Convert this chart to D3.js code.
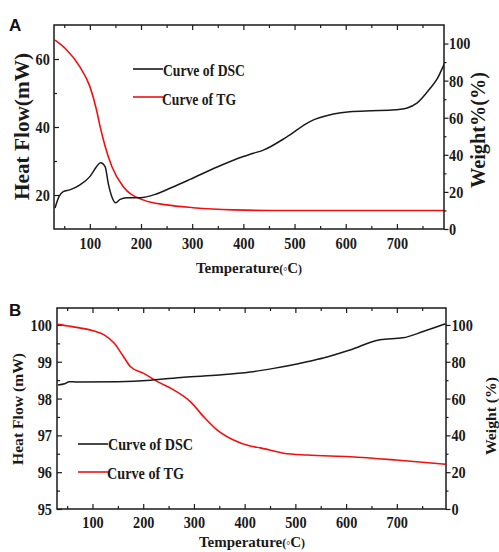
<!DOCTYPE html>
<html><head><meta charset="utf-8">
<script src="https://cdn.jsdelivr.net/npm/d3@7"></script>
<style>
body{margin:0;background:#fff}
svg{display:block}
text{font-family:"Liberation Serif","Times New Roman",serif;font-weight:bold;fill:#1a1a1a}
</style>
</head><body>
<svg id="c" width="499" height="552"></svg>
<script>
// ---------- data ----------
const tempTicks = [100, 200, 300, 400, 500, 600, 700];
const tempMinorTicks = [50, 150, 250, 350, 450, 550, 650, 750];
const aHeatTicks = [20, 40, 60];
const aHeatMinor = [30, 50];
const weightTicks = [0, 20, 40, 60, 80, 100];
const weightMinor = [10, 30, 50, 70, 90];
const bHeatTicks = [95, 96, 97, 98, 99, 100];
const bHeatMinor = [95.5, 96.5, 97.5, 98.5, 99.5];

// Panel A – DSC (heat flow, mW)
const aDscTemp = [32, 40, 48, 61, 80, 100, 113, 121, 130, 136, 143, 150.6, 159, 172, 198, 230, 260, 296, 350, 400, 420, 439, 485, 530, 576, 608, 650, 690, 720, 739, 765, 778, 793];
const aDscHeat = [16.2, 19.6, 21.0, 21.5, 22.9, 25.4, 28.3, 29.5, 28.3, 23.4, 19.5, 17.7, 18.7, 19.2, 19.2, 20.3, 22.2, 24.6, 28.3, 31.3, 32.3, 33.2, 37.1, 41.6, 43.8, 44.5, 44.8, 45.0, 45.6, 47.0, 51.4, 54.0, 58.7];
// Panel A – TG (weight %)
const aTgTemp = [32, 54, 80, 100, 113, 120, 130, 143, 165, 204, 250, 302, 380, 450, 600, 792];
const aTgWeight = [101.8, 96.8, 87.7, 76.9, 64.3, 55.3, 44.5, 33.7, 22.9, 15.7, 13.0, 11.5, 10.3, 10.0, 10.0, 10.0];

// Panel B – DSC (heat flow, mW)
const bDscTemp = [32, 45, 54, 70, 150, 215, 280, 350, 411, 457, 523, 555, 608, 667, 712, 752, 796];
const bDscHeat = [98.37, 98.40, 98.46, 98.45, 98.46, 98.50, 98.58, 98.64, 98.72, 98.82, 99.00, 99.10, 99.32, 99.60, 99.65, 99.82, 100.03];
// Panel B – TG (weight %)
const bTgTemp = [32, 57, 103, 123, 143, 159, 175, 201, 228, 260, 293, 319, 346, 378, 411, 431, 477, 523, 608, 699, 796];
const bTgWeight = [100.3, 99.2, 96.7, 94.6, 90.0, 83.7, 77.3, 73.7, 69.2, 64.7, 58.3, 50.2, 42.9, 37.5, 34.2, 33.2, 30.3, 29.3, 28.4, 26.6, 24.3];

const legendLabels = ["Curve of DSC", "Curve of TG"];

// ---------- drawing ----------
const svg = d3.select('#c');
const INK = '#1a1a1a', RED = '#f01010';

function styleAxis(s, sx) {
  s.select('.domain').remove();
  s.selectAll('line').attr('stroke', INK).attr('stroke-width', 1.2);
  s.selectAll('text').style('font-size', '17px').style('fill', INK)
    .attr('transform', `scale(${sx},1)`);
}

function drawPanel(p) {
  const g = svg.append('g');
  const x = d3.scaleLinear().domain(p.xDomain).range([p.left, p.right]);
  const yL = d3.scaleLinear().domain(p.yLDomain).range([p.bottom, p.top]);
  const yR = d3.scaleLinear().domain(p.yRDomain).range([p.bottom, p.top]);

  const add = (axis, tx, ty) => g.append('g').attr('transform', `translate(${tx},${ty})`).call(axis).call(s => styleAxis(s, 0.84));

  add(d3.axisBottom(x).tickValues(tempTicks).tickSizeInner(-5).tickSizeOuter(0).tickPadding(p.xPad), 0, p.bottom);
  add(d3.axisBottom(x).tickValues(tempMinorTicks.filter(v => v > p.xDomain[0])).tickSize(-3).tickFormat(''), 0, p.bottom);
  add(d3.axisTop(x).tickValues(tempTicks).tickSize(-5).tickFormat(''), 0, p.top);
  add(d3.axisTop(x).tickValues(tempMinorTicks.filter(v => v > p.xDomain[0])).tickSize(-3).tickFormat(''), 0, p.top);
  add(d3.axisLeft(yL).tickValues(p.yLTicks).tickSize(-5).tickPadding(p.yLPad).tickFormat(d3.format('d')), p.left, 0);
  add(d3.axisLeft(yL).tickValues(p.yLMinor).tickSize(-3).tickFormat(''), p.left, 0);
  add(d3.axisRight(yR).tickValues(weightTicks).tickSize(4.5).tickPadding(p.yRPad).tickFormat(d3.format('d')), p.right, 0);
  add(d3.axisRight(yR).tickValues(weightMinor).tickSize(2.5).tickFormat(''), p.right, 0);

  const clipId = 'clip' + p.name;
  g.append('clipPath').attr('id', clipId).append('rect')
    .attr('x', p.left).attr('y', p.top).attr('width', p.right - p.left).attr('height', p.bottom - p.top);

  const lineL = d3.line().x(d => x(d[0])).y(d => yL(d[1])).curve(d3.curveMonotoneX);
  const lineR = d3.line().x(d => x(d[0])).y(d => yR(d[1])).curve(d3.curveMonotoneX);
  g.append('path').datum(d3.zip(p.tgT, p.tgW)).attr('d', lineR).attr('fill', 'none')
    .attr('stroke', RED).attr('stroke-width', 1.6).attr('clip-path', `url(#${clipId})`);
  g.append('path').datum(d3.zip(p.dscT, p.dscH)).attr('d', lineL).attr('fill', 'none')
    .attr('stroke', INK).attr('stroke-width', 1.5).attr('clip-path', `url(#${clipId})`);

  g.append('rect').attr('x', p.left).attr('y', p.top).attr('width', p.right - p.left).attr('height', p.bottom - p.top)
    .attr('fill', 'none').attr('stroke', INK).attr('stroke-width', 1.5);

  // legend
  p.legend.forEach((L, i) => {
    g.append('line').attr('x1', L.x1).attr('x2', L.x2).attr('y1', L.y).attr('y2', L.y)
      .attr('stroke', i === 0 ? INK : RED).attr('stroke-width', 1.6);
    g.append('text').attr('x', L.tx).attr('y', L.ty).style('font-size', '17px')
      .attr('textLength', L.tw).attr('lengthAdjust', 'spacingAndGlyphs').text(legendLabels[i]);
  });

  // x-axis title
  const xt = g.append('text').attr('x', p.xTitle.x).attr('y', p.xTitle.y).attr('text-anchor', 'middle');
  xt.append('tspan').style('font-size', '15px').text('Temperature');
  xt.append('tspan').style('font-size', '12px').text('(');
  xt.append('tspan').style('font-size', '10px').style('font-weight', 'normal').attr('dy', 2).text('°');
  xt.append('tspan').style('font-size', '15px').attr('dy', -2).text('C');
  xt.append('tspan').style('font-size', '12px').text(')');

  g.append('text').attr('transform', `translate(${p.yLTitle.x},${p.yLTitle.y}) rotate(-90)`)
    .attr('text-anchor', 'middle').style('font-size', p.yLTitle.size + 'px')
    .attr('textLength', p.yLTitle.w).attr('lengthAdjust', 'spacingAndGlyphs').text(p.yLTitle.text);
  g.append('text').attr('transform', `translate(${p.yRTitle.x},${p.yRTitle.y}) rotate(-90)`)
    .attr('text-anchor', 'middle').style('font-size', p.yRTitle.size + 'px')
    .attr('textLength', p.yRTitle.w).attr('lengthAdjust', 'spacingAndGlyphs').text(p.yRTitle.text);

  g.append('text').attr('x', p.tag.x).attr('y', p.tag.y).style('font-size', '17px')
    .style('font-family', '"Liberation Sans", Arial, sans-serif').style('font-weight', 'bold').style('fill', '#111').text(p.name);
}

drawPanel({
  name: 'A', left: 54, right: 444, top: 25, bottom: 229,
  xDomain: [30, 792], yLDomain: [10, 70], yRDomain: [0, 110],
  yLTicks: aHeatTicks, yLMinor: aHeatMinor, xPad: 8, yLPad: 5, yRPad: 1.5,
  dscT: aDscTemp, dscH: aDscHeat, tgT: aTgTemp, tgW: aTgWeight,
  legend: [{x1: 133, x2: 163, y: 69, tx: 163, ty: 76, tw: 82}, {x1: 133, x2: 163, y: 97, tx: 162, ty: 105, tw: 74}],
  xTitle: {x: 249, y: 273},
  yLTitle: {x: 28.5, y: 126.5, size: 22, w: 147, text: 'Heat Flow(mW)'},
  yRTitle: {x: 485, y: 130, size: 20, w: 116, text: 'Weight%(%)'},
  tag: {x: 9, y: 31}
});

drawPanel({
  name: 'B', left: 57, right: 446, top: 308, bottom: 509,
  xDomain: [30, 797], yLDomain: [95, 100.46], yRDomain: [0, 109.2],
  yLTicks: bHeatTicks, yLMinor: bHeatMinor, xPad: 7, yLPad: 6, yRPad: 2,
  dscT: bDscTemp, dscH: bDscHeat, tgT: bTgTemp, tgW: bTgWeight,
  legend: [{x1: 78, x2: 108, y: 444, tx: 108, ty: 450, tw: 85}, {x1: 78, x2: 108, y: 472, tx: 107, ty: 479, tw: 77}],
  xTitle: {x: 252, y: 547},
  yLTitle: {x: 23, y: 409, size: 15.5, w: 112, text: 'Heat Flow (mW)'},
  yRTitle: {x: 495.5, y: 416, size: 15.5, w: 78, text: 'Weight (%)'},
  tag: {x: 9, y: 316}
});
</script>
</body></html>
